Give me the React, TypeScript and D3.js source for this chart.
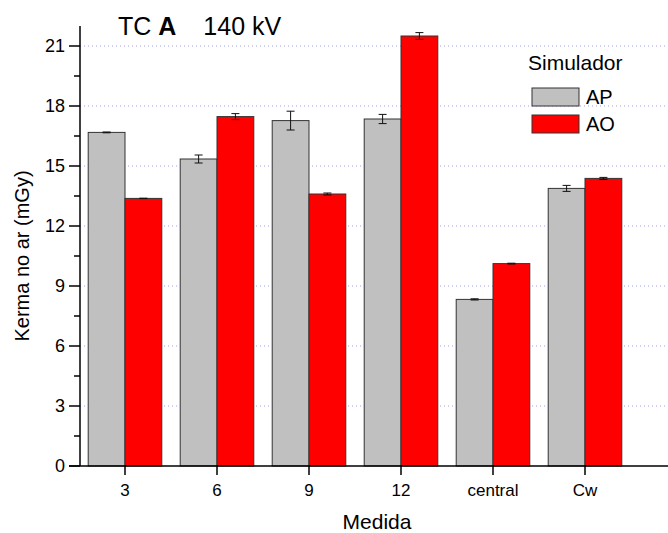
import React from 'react';
import * as d3 from 'd3';

const categories = ['3', '6', '9', '12', 'central', 'Cw'];
const apValues = [16.68, 15.35, 17.27, 17.35, 8.33, 13.88];
const apErrors = [0.02, 0.2, 0.47, 0.23, 0.03, 0.15];
const aoValues = [13.38, 17.47, 13.6, 21.5, 10.12, 14.38];
const aoErrors = [0.01, 0.15, 0.05, 0.17, 0.02, 0.05];
const yTicks = [0, 3, 6, 9, 12, 15, 18, 21];
const yMinorTicks = [1.5, 4.5, 7.5, 10.5, 13.5, 16.5, 19.5];
const series = [
  { name: 'AP', values: apValues, errors: apErrors, color: '#c0c0c0' },
  { name: 'AO', values: aoValues, errors: aoErrors, color: '#ff0000' },
];

const W = 668;
const H = 533;
const font = 'Arial, "Liberation Sans", sans-serif';

export default function App() {
  const x = d3.scaleBand().domain(categories).range([79, 631]).padding(0);
  const y = d3.scaleLinear().domain([0, 22]).range([466, 26]);
  const barW = x.bandwidth() * 0.4;
  const axisX = 80;
  const baseY = y(0);

  return (
    <svg width={W} height={H} style={{ position: 'absolute', left: 0, top: 0, background: '#fff' }}>
      {/* grid */}
      {yTicks.filter(t => t > 0).map(t => (
        <line key={'g' + t} x1={axisX} x2={W} y1={y(t)} y2={y(t)}
          stroke="#a0a0e0" strokeWidth={1} strokeDasharray="1,3" />
      ))}

      {/* bars */}
      {categories.map((c, i) => {
        const cx = (x(c) as number) + x.bandwidth() / 2;
        return series.map((s, j) => {
          const bx = cx - barW + j * barW;
          const v = s.values[i];
          const e = s.errors[i];
          const mid = bx + barW / 2;
          return (
            <g key={c + s.name}>
              <rect x={bx} y={y(v)} width={barW} height={baseY - y(v)}
                fill={s.color} stroke="#333" strokeWidth={1} />
              <line x1={mid} x2={mid} y1={y(v + e)} y2={y(v - e)} stroke="#111" strokeWidth={1} />
              <line x1={mid - 4} x2={mid + 4} y1={y(v + e)} y2={y(v + e)} stroke="#111" strokeWidth={1} />
              <line x1={mid - 4} x2={mid + 4} y1={y(v - e)} y2={y(v - e)} stroke="#111" strokeWidth={1} />
            </g>
          );
        });
      })}

      {/* y axis */}
      <line x1={axisX} x2={axisX} y1={y(22)} y2={baseY} stroke="#000" strokeWidth={1.5} />
      {yTicks.map(t => (
        <g key={'y' + t}>
          <line x1={axisX - 11} x2={axisX} y1={y(t)} y2={y(t)} stroke="#000" strokeWidth={1.5} />
          <text x={axisX - 15} y={y(t)} dy="0.35em" textAnchor="end" fontSize={18} fontFamily={font}>{t}</text>
        </g>
      ))}
      {yMinorTicks.map(t => (
        <line key={'m' + t} x1={axisX - 6} x2={axisX} y1={y(t)} y2={y(t)} stroke="#000" strokeWidth={1.5} />
      ))}

      {/* x axis */}
      <line x1={axisX - 11} x2={W} y1={baseY} y2={baseY} stroke="#000" strokeWidth={1.5} />
      {categories.map(c => {
        const cx = (x(c) as number) + x.bandwidth() / 2;
        return (
          <g key={'x' + c}>
            <line x1={cx} x2={cx} y1={baseY} y2={baseY + 9} stroke="#000" strokeWidth={1.5} />
            <text x={cx} y={baseY + 30} textAnchor="middle" fontSize={17} fontFamily={font}>{c}</text>
          </g>
        );
      })}

      {/* axis titles */}
      <text x={377} y={529} textAnchor="middle" fontSize={21} fontFamily={font}>Medida</text>
      <text transform={`translate(29,${y(10.5)}) rotate(-90)`} textAnchor="middle" fontSize={20} fontFamily={font}>
        Kerma no ar (mGy)
      </text>

      {/* title */}
      <text x={118} y={35} fontSize={25} fontFamily={font}>
        <tspan>TC </tspan>
        <tspan fontWeight="bold">A</tspan>
        <tspan dx={27}>140 kV</tspan>
      </text>

      {/* legend */}
      <text x={528} y={70} fontSize={21} fontFamily={font}>Simulador</text>
      {series.map((s, j) => (
        <g key={'l' + s.name} transform={`translate(532,${88 + j * 27})`}>
          <rect x={0} y={0} width={47} height={18} fill={s.color} stroke="#333" strokeWidth={1} />
          <text x={54} y={9} dy="0.36em" fontSize={20} fontFamily={font}>{s.name}</text>
        </g>
      ))}
    </svg>
  );
}
